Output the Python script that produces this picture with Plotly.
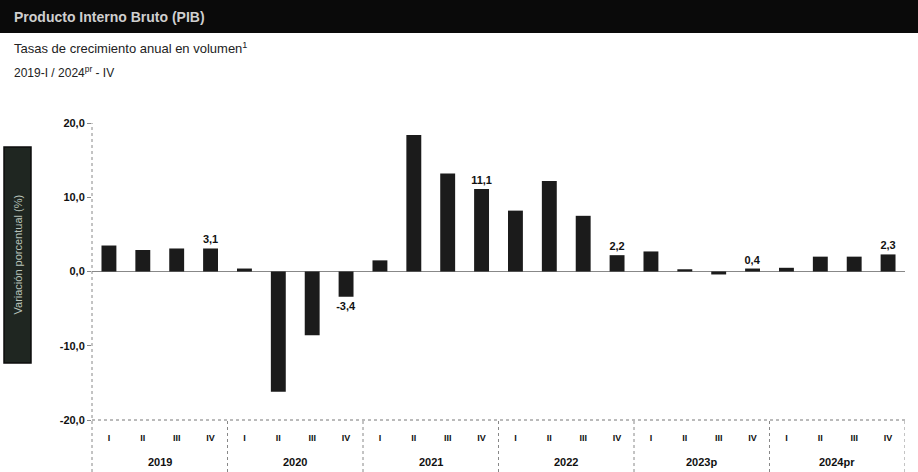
import plotly.graph_objects as go

years = ["2019", "2020", "2021", "2022", "2023p", "2024pr"]
quarters = ["I", "II", "III", "IV"]
values = [
    3.5, 2.9, 3.1, 3.1,      # 2019
    0.4, -16.2, -8.6, -3.4,  # 2020
    1.5, 18.4, 13.2, 11.1,   # 2021
    8.2, 12.2, 7.5, 2.2,     # 2022
    2.7, 0.3, -0.4, 0.4,     # 2023p
    0.5, 2.0, 2.0, 2.3,      # 2024pr
]
ytick_vals = [-20, -10, 0, 10, 20]

W, H = 918, 472
L, R, T, B = 92, 13, 123, 52
plot_h = H - T - B
plot_w = W - L - R


def py(px):  # pixel y -> paper y
    return (H - B - px) / plot_h


def px_(x):  # pixel x -> paper x
    return (x - L) / plot_w


n = len(values)
xs = list(range(n))
tick_text = [quarters[i % 4] for i in xs]
labels = [
    (f"<b>{v:.1f}</b>".replace(".", ",") if i % 4 == 3 else "") for i, v in enumerate(values)
]

font = "Liberation Sans, Arial, sans-serif"

fig = go.Figure()
fig.add_trace(go.Bar(
    x=xs, y=values,
    marker=dict(color="#1b1b1b", line=dict(width=0)),
    text=labels, textposition="outside", cliponaxis=False,
    constraintext="none",
    textfont=dict(family=font, size=11, color="#111"),
    hoverinfo="skip",
))

shapes = []
# title bar
shapes.append(dict(type="rect", xref="paper", yref="paper",
                   x0=px_(0), x1=px_(W), y0=py(33), y1=py(0),
                   fillcolor="#0a0a0a", line=dict(width=0), layer="below"))
# y axis title box
shapes.append(dict(type="rect", xref="paper", yref="paper",
                   x0=px_(4), x1=px_(31), y0=py(363), y1=py(147),
                   fillcolor="#1f2621", line=dict(color="#0d0d0d", width=1.5)))
# bottom dotted line
shapes.append(dict(type="line", xref="paper", yref="paper",
                   x0=0, x1=1, y0=0, y1=0,
                   line=dict(color="#777", width=1, dash="dot")))
# left dotted axis line
shapes.append(dict(type="line", xref="paper", yref="paper",
                   x0=0, x1=0, y0=py(472), y1=1,
                   line=dict(color="#888", width=1, dash="dot")))
# year dividers
for k in range(1, len(years) + 1):
    xd = 4 * k - 0.5
    shapes.append(dict(type="line", xref="x", yref="paper",
                       x0=xd, x1=xd, y0=py(472), y1=0,
                       line=dict(color="#888", width=1, dash="dot")))

annotations = []
annotations.append(dict(text="<b>Producto Interno Bruto (PIB)</b>", xref="paper", yref="paper",
                        x=px_(12), y=py(17), xanchor="left", yanchor="middle",
                        showarrow=False,
                        font=dict(family=font, size=14, color="#cfcfcf")))
annotations.append(dict(text="Tasas de crecimiento anual en volumen<sup>1</sup>",
                        xref="paper", yref="paper",
                        x=px_(12), y=py(48), xanchor="left", yanchor="middle",
                        showarrow=False,
                        font=dict(family=font, size=13, color="#222")))
annotations.append(dict(text="2019-I / 2024<sup>pr</sup> - IV",
                        xref="paper", yref="paper",
                        x=px_(12), y=py(72), xanchor="left", yanchor="middle",
                        showarrow=False,
                        font=dict(family=font, size=12, color="#222")))
annotations.append(dict(text="Variación porcentual (%)", xref="paper", yref="paper",
                        x=px_(17.5), y=py(255), textangle=-90,
                        xanchor="center", yanchor="middle", showarrow=False,
                        font=dict(family=font, size=11, color="#b9c4bb")))
for k, yr in enumerate(years):
    annotations.append(dict(text=f"<b>{yr}</b>", xref="x", yref="paper",
                            x=4 * k + 1.5, y=py(462), xanchor="center", yanchor="middle",
                            showarrow=False,
                            font=dict(family=font, size=11, color="#111")))

fig.update_layout(
    width=W, height=H, autosize=False,
    margin=dict(l=L, r=R, t=T, b=B),
    paper_bgcolor="white", plot_bgcolor="white",
    separators=",.",
    showlegend=False,
    bargap=0.56,
    shapes=shapes,
    annotations=annotations,
    xaxis=dict(
        range=[-0.5, n - 0.5],
        tickmode="array", tickvals=xs,
        ticktext=[f"<b>{t}</b>" for t in tick_text],
        ticks="outside", ticklen=9, tickcolor="rgba(0,0,0,0)",
        tickfont=dict(family=font, size=9, color="#111"),
        showgrid=False, zeroline=False, showline=False,
        fixedrange=True,
    ),
    yaxis=dict(
        range=[-20, 20],
        tickmode="array", tickvals=ytick_vals,
        ticktext=[f"<b>{v:.1f}</b>".replace(".", ",") for v in ytick_vals],
        ticks="outside", ticklen=4, tickcolor="#888",
        tickfont=dict(family=font, size=11, color="#111"),
        showgrid=False, showline=False,
        zeroline=True, zerolinecolor="#888", zerolinewidth=1,
        fixedrange=True,
    ),
)

fig.write_html("out.html", config={"displayModeBar": False},
               post_script="document.body.style.margin='0';")
